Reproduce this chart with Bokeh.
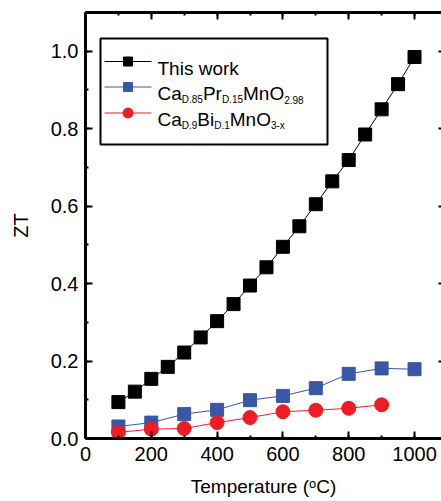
from bokeh.plotting import figure
from bokeh.models import (Range1d, LinearAxis, SingleIntervalTicker, Label,
                          PrintfTickFormatter, CustomJSTickFormatter)
from bokeh.embed import file_html
from bokeh.resources import INLINE

# ---------------- data ----------------
temp_this = [100, 150, 200, 250, 300, 350, 400, 450, 500, 550, 600, 650, 700,
             750, 800, 850, 900, 950, 1000]
zt_this = [0.094, 0.121, 0.154, 0.185, 0.222, 0.261, 0.303, 0.347, 0.395, 0.442,
           0.495, 0.548, 0.605, 0.664, 0.719, 0.785, 0.850, 0.915, 0.985]

temp_pr = [100, 200, 300, 400, 500, 600, 700, 800, 900, 1000]
zt_pr = [0.031, 0.041, 0.063, 0.074, 0.099, 0.110, 0.130, 0.167, 0.181, 0.179]

temp_bi = [100, 200, 300, 400, 500, 600, 700, 800, 900]
zt_bi = [0.016, 0.024, 0.026, 0.041, 0.054, 0.069, 0.073, 0.078, 0.087]

x_label = "Temperature (\u1d52C)"
y_label = "ZT"

# ---------------- layout ----------------
W, H = 441, 501
FL, FT, FB, FR = 85, 12, 63, 0
FW, FH = W - FL - FR, H - FT - FB
X_END, Y_END = 1082, 1.1
FONT = "Liberation Sans"
BLACK, BLUE, RED = "#000000", "#3A56A6", "#EE1C25"

p = figure(width=W, height=H, output_backend="svg", toolbar_location=None,
           x_range=Range1d(0, X_END), y_range=Range1d(0, Y_END),
           min_border_left=FL, min_border_right=FR, min_border_top=FT,
           min_border_bottom=FB, x_axis_label=x_label, y_axis_label=y_label)
p.outline_line_color = None
p.grid.visible = False
p.background_fill_color = "white"
p.border_fill_color = "white"


def style_axis(ax, labels=True):
    ax.axis_line_width = 3
    ax.axis_line_color = "black"
    ax.major_tick_in = 7
    ax.major_tick_out = 0
    ax.minor_tick_in = 3
    ax.minor_tick_out = 0
    ax.major_tick_line_width = 2
    ax.minor_tick_line_width = 2
    ax.major_label_text_font = FONT
    ax.major_label_text_font_size = "20px"
    ax.major_label_text_color = "black"
    ax.axis_label_text_font = FONT
    ax.axis_label_text_font_style = "normal"
    ax.axis_label_text_color = "black"
    if not labels:
        ax.formatter = CustomJSTickFormatter(code="return ''")
        ax.major_label_standoff = 0
        ax.axis_label = None


xa = p.xaxis[0]
xa.ticker = SingleIntervalTicker(interval=200, num_minor_ticks=2)
style_axis(xa)
xa.major_label_standoff = 8
xa.axis_label_standoff = 12
xa.axis_label_text_font_size = "19px"

ya = p.yaxis[0]
ya.ticker = SingleIntervalTicker(interval=0.2, num_minor_ticks=2)
ya.formatter = PrintfTickFormatter(format="%.1f")
style_axis(ya)
ya.major_label_standoff = 7
ya.axis_label_standoff = 16
ya.axis_label_text_font_size = "20px"

top = LinearAxis(ticker=SingleIntervalTicker(interval=200, num_minor_ticks=2))
style_axis(top, labels=False)
p.add_layout(top, "above")

right = LinearAxis(ticker=SingleIntervalTicker(interval=0.2, num_minor_ticks=0))
style_axis(right, labels=False)
right.axis_line_color = None
right.major_tick_in = 3
right.minor_tick_line_color = None
p.add_layout(right, "right")

# ---------------- series ----------------
p.line(temp_this, zt_this, line_color=BLACK, line_width=1)
p.scatter(temp_this, zt_this, marker="square", size=13, fill_color=BLACK,
          line_color=BLACK)
p.line(temp_pr, zt_pr, line_color=BLUE, line_width=1)
p.scatter(temp_pr, zt_pr, marker="square", size=13, fill_color=BLUE,
          line_color=BLUE)
p.line(temp_bi, zt_bi, line_color=RED, line_width=1)
p.scatter(temp_bi, zt_bi, marker="circle", size=14, fill_color=RED,
          line_color=RED)

# ---------------- hand-made legend ----------------
def px(page_x):
    return (page_x - FL) / FW * X_END


def py(page_y):
    return (FT + FH - page_y) / FH * Y_END


# Arial / Liberation Sans advance widths (em)
AW = {"C": .722, "a": .556, "D": .722, ".": .278, "0": .556, "1": .556,
      "2": .556, "3": .556, "5": .556, "8": .556, "9": .556, "P": .667,
      "r": .333, "M": .833, "n": .556, "O": .778, "B": .667, "i": .222,
      "-": .333, "x": .5}


def tw(s, size):
    return sum(AW.get(c, .556) for c in s) * size


box_l, box_r, box_t, box_b = 100, 327, 38, 144
p.quad(left=px(box_l), right=px(box_r), top=py(box_t), bottom=py(box_b),
       fill_color="white", line_color="black", line_width=2)

rows_y = [61, 86.5, 112.5]
row_colors = [BLACK, BLUE, RED]
row_markers = ["square", "square", "circle"]
row_sizes = [9, 9, 10]
for ry, col, mk, sz in zip(rows_y, row_colors, row_markers, row_sizes):
    p.line([px(104), px(151)], [py(ry), py(ry)], line_color=col, line_width=1)
    p.scatter([px(127.5)], [py(ry)], marker=mk, size=sz, fill_color=col,
              line_color=col)

TX = 157
MAIN, SUB, SUB_DROP = 19, 10, 6
p.add_layout(Label(x=px(TX), y=py(rows_y[0] + 7), text="This work",
                   text_font=FONT, text_font_size="19px",
                   text_baseline="alphabetic", text_color="black"))

formulas = [
    [("Ca", 0), ("D.85", 1), ("Pr", 0), ("D.15", 1), ("MnO", 0), ("2.98", 1)],
    [("Ca", 0), ("D.9", 1), ("Bi", 0), ("D.1", 1), ("MnO", 0), ("3-x", 1)],
]
for ry, parts in zip(rows_y[1:], formulas):
    off = 0.0
    base = ry + 6.5
    for txt, is_sub in parts:
        size = SUB if is_sub else MAIN
        p.add_layout(Label(x=px(TX), y=py(base), x_offset=off,
                           y_offset=-SUB_DROP if is_sub else 0, text=txt,
                           text_font=FONT, text_font_size=f"{size}px",
                           text_baseline="alphabetic", text_color="black"))
        off += tw(txt, size)

open("out.html", "w").write(file_html(p, INLINE))
